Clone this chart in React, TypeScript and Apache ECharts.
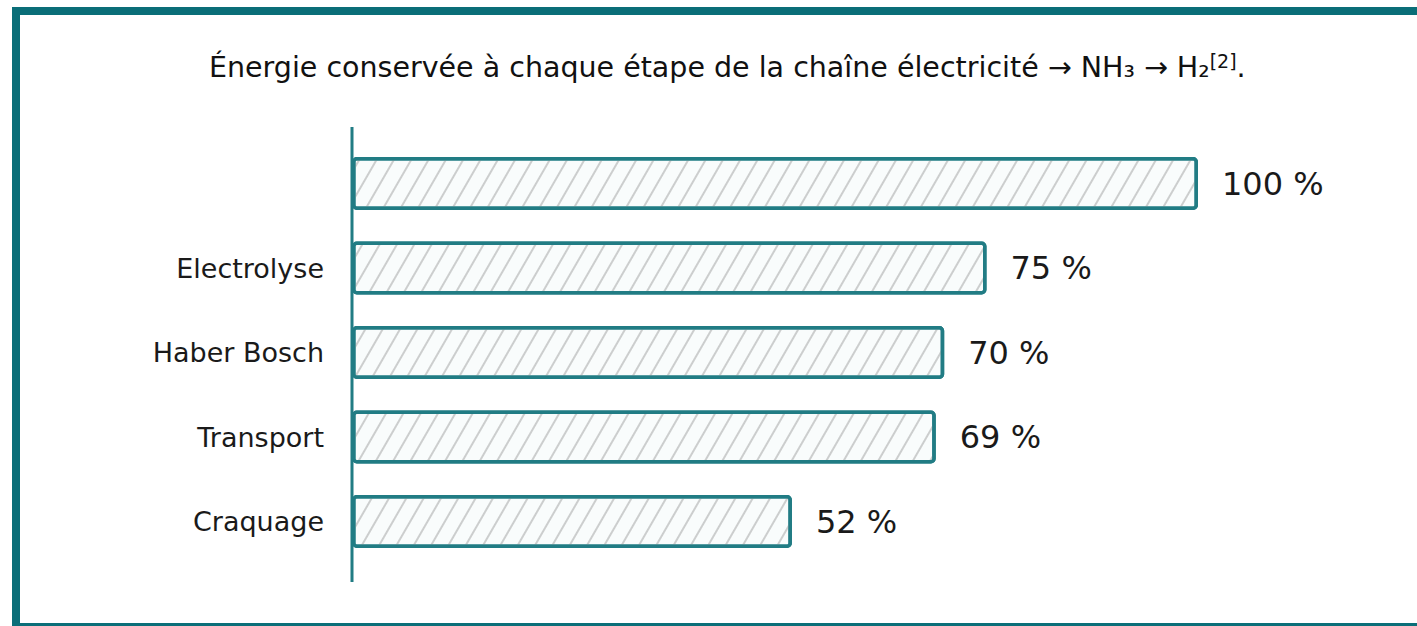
import React, { useEffect, useRef } from "react";
import * as echarts from "echarts";

const categories = ["", "Electrolyse", "Haber Bosch", "Transport", "Craquage"];
const values = [100, 75, 70, 69, 52];
const titleMain = "Énergie conservée à chaque étape de la chaîne électricité → NH₃ → H₂";
const titleRef = "[2]";

const TEAL = "#0a6e78";
const BAR_TEAL = "#217c84";
const FONT = "'DejaVu Sans', Verdana, sans-serif";

export default function App() {
  const ref = useRef<HTMLDivElement>(null);
  useEffect(() => {
    if (!ref.current) return;
    const chart = echarts.init(ref.current, null, { renderer: "svg" });
    chart.setOption({
      animation: false,
      backgroundColor: "transparent",
      title: {
        text: titleMain + "{sup|" + titleRef + "}.",
        left: 204,
        top: 46,
        textStyle: {
          fontFamily: FONT,
          fontSize: 28.5,
          fontWeight: "normal",
          color: "#111",
          rich: {
            sup: {
              fontFamily: FONT,
              fontSize: 19,
              color: "#111",
              verticalAlign: "top",
              padding: [0, 0, 13, 0],
            },
          },
        },
      },
      grid: { left: 352, right: 219, top: 141.25, bottom: 62.25, containLabel: false },
      xAxis: {
        type: "value",
        min: 0,
        max: 100,
        show: false,
      },
      yAxis: {
        type: "category",
        data: categories,
        inverse: true,
        axisLine: { show: false },
        axisTick: { show: false },
        axisLabel: {
          fontFamily: FONT,
          fontSize: 27,
          color: "#1a1a1a",
          margin: 28,
        },
      },
      series: [
        {
          type: "bar",
          data: values,
          barWidth: 53,
          itemStyle: {
            color: "#f9fcfc",
            borderColor: BAR_TEAL,
            borderWidth: 3.5,
            borderRadius: 3,
            decal: {
              symbol: "rect",
              symbolSize: 1,
              color: "rgba(160,160,160,0.5)",
              dashArrayX: [1, 0],
              dashArrayY: [1.2, 12.5],
              rotation: -Math.PI / 3,
            },
          },
          label: {
            show: true,
            position: "right",
            distance: 24,
            formatter: (p: any) => p.value + " %",
            fontFamily: FONT,
            fontSize: 32,
            color: "#1a1a1a",
          },
        },
      ],
      graphic: [
        {
          type: "line",
          shape: { x1: 352, y1: 127, x2: 352, y2: 582 },
          style: { stroke: BAR_TEAL, lineWidth: 3 },
          z: 10,
        },
      ],
    });
    return () => chart.dispose();
  }, []);

  return (
    <div style={{ position: "fixed", left: 0, top: 0, width: 1417, height: 626, background: "#fff", overflow: "hidden" }}>
      <div
        style={{
          position: "absolute",
          left: 12,
          top: 7,
          width: 1405,
          height: 619,
          boxSizing: "border-box",
          borderTop: `8px solid ${TEAL}`,
          borderLeft: `8px solid ${TEAL}`,
          borderBottom: `3px solid ${TEAL}`,
        }}
      />
      <div ref={ref} style={{ position: "absolute", left: 0, top: 0, width: 1417, height: 626 }} />
    </div>
  );
}
